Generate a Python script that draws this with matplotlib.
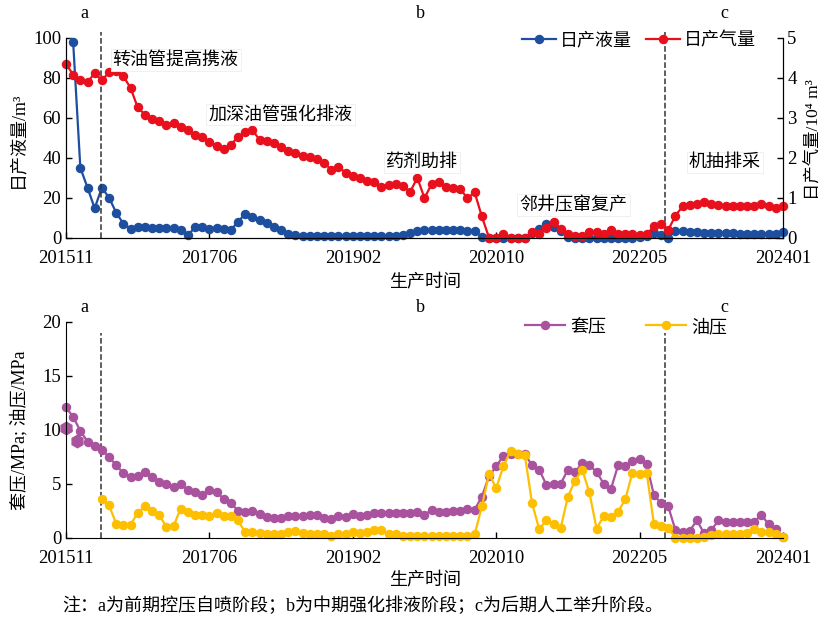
import numpy as np
import matplotlib
matplotlib.use('Agg')
import matplotlib.pyplot as plt
from matplotlib.lines import Line2D

plt.rcParams['font.family'] = ['Liberation Serif', 'Noto Sans CJK SC', 'DejaVu Sans']
plt.rcParams['font.size'] = 13

# production records, 101 points from 201511 to 202401
tick_labels = ['201511', '201706', '201902', '202010', '202205', '202401']

# daily liquid, m3
liquid = [104, 97.8, 35, 25, 14.7, 25, 20, 12.5, 7, 4.5,
          5.2, 5.2, 5, 5, 5, 5, 3.8, 1.2, 5.2, 5.5,
          4.2, 4.7, 4.2, 3.8, 8, 11.9, 10.2, 8.9, 7.5, 5.5,
          3.8, 1.8, 1.5, 0.8, 1, 0.8, 1, 0.8, 0.8, 0.8,
          0.8, 0.8, 0.8, 0.8, 0.8, 0.8, 1, 1.5, 2.5, 3.2,
          3.8, 4, 4, 3.8, 3.8, 3.8, 3.5, 3.2, 0.5, 0,
          0, 0, 0, 0, 0, 2.5, 4.2, 7, 5.5, 3.5,
          0.5, 0, 0, 0, 0, 0, 0, 0, 0, 0,
          0.3, 1, 2.2, 1.3, 0, 3.5, 3.3, 3, 2.8, 2.5,
          2.5, 2.3, 2.2, 2.2, 2, 2, 2, 1.8, 1.8, 2,
          3]

# daily gas, 10^4 m3
gas = [4.35, 4.08, 3.95, 3.89, 4.12, 3.94, 4.14, 4.17, 4.04, 3.75,
       3.26, 3.08, 2.97, 2.91, 2.83, 2.87, 2.77, 2.70, 2.58, 2.52,
       2.39, 2.29, 2.23, 2.33, 2.52, 2.64, 2.69, 2.45, 2.41, 2.37,
       2.27, 2.18, 2.12, 2.05, 2.02, 1.98, 1.88, 1.70, 1.78, 1.62,
       1.55, 1.49, 1.43, 1.38, 1.27, 1.32, 1.34, 1.30, 1.14, 1.50,
       0.99, 1.34, 1.38, 1.26, 1.24, 1.21, 0.99, 1.13, 0.53, 0.00,
       0.00, 0.10, 0.00, 0.00, 0.00, 0.13, 0.10, 0.25, 0.40, 0.21,
       0.09, 0.04, 0.03, 0.13, 0.13, 0.09, 0.19, 0.09, 0.09, 0.09,
       0.07, 0.09, 0.28, 0.34, 0.19, 0.55, 0.78, 0.82, 0.84, 0.90,
       0.84, 0.82, 0.79, 0.78, 0.78, 0.79, 0.78, 0.84, 0.79, 0.75,
       0.78]

# casing pressure, MPa
casing = [12.07, 11.2, 9.9, 8.9, 8.5, 8.1, 7.5, 6.7, 6.0, 5.6,
          5.7, 6.1, 5.6, 5.2, 5.0, 4.7, 5.0, 4.4, 4.2, 4.0,
          4.4, 4.2, 3.6, 3.2, 2.5, 2.4, 2.5, 2.2, 1.95, 1.8,
          1.8, 2.0, 2.0, 2.0, 2.1, 2.1, 1.8, 1.7, 2.0, 1.9,
          2.2, 2.0, 2.1, 2.25, 2.3, 2.3, 2.3, 2.25, 2.3, 2.4,
          2.1, 2.6, 2.4, 2.4, 2.5, 2.5, 2.7, 2.6, 3.8, 5.7,
          6.6, 7.6, 7.8, 7.75, 7.75, 6.7, 6.3, 4.9, 5.0, 5.0,
          6.3, 6.1, 6.9, 6.7, 6.1, 5.0, 4.5, 6.7, 6.6, 7.1,
          7.25, 6.8, 3.95, 3.2, 2.9, 0.7, 0.55, 0.65, 1.6, 0.4,
          0.7, 1.6, 1.5, 1.5, 1.5, 1.5, 1.5, 2.1, 1.25, 0.8,
          0.03]
casing_early_x = [0, 1.5]
casing_early = [10.2, 9.0]

# tubing pressure, MPa (no record before the tubing change)
tubing = [np.nan, np.nan, np.nan, np.nan, np.nan, 3.55, 3.0, 1.3, 1.2, 1.2,
          2.3, 2.9, 2.5, 2.1, 1.0, 1.1, 2.7, 2.4, 2.1, 2.1,
          2.0, 2.3, 2.0, 2.0, 1.6, 0.5, 0.5, 0.4, 0.3, 0.3,
          0.3, 0.5, 0.6, 0.4, 0.35, 0.35, 0.3, 0.2, 0.3, 0.35,
          0.5, 0.4, 0.5, 0.75, 0.7, 0.35, 0.3, 0.2, 0.2, 0.2,
          0.2, 0.2, 0.2, 0.2, 0.2, 0.2, 0.2, 0.3, 2.9, 5.9,
          4.6, 6.6, 8.05, 7.8, 7.65, 3.2, 0.8, 1.6, 1.3, 0.9,
          3.8, 5.3, 6.3, 4.2, 0.85, 2.0, 1.95, 2.4, 3.55, 6.0,
          5.9, 6.0, 1.25, 1.1, 0.9, 0, 0, 0, 0, 0.03,
          0.25, 0.35, 0.35, 0.3, 0.3, 0.4, 0.8, 0.55, 0.55, 0.35,
          0.03]

stage_bounds = [4.9, 83.6]
stage_names = ['a', 'b', 'c']
notes = ['转油管提高携液', '加深油管强化排液', '药剂助排', '邻井压窜复产', '机抽排采']

n = len(liquid)
months = np.arange(n)
tick_pos = np.linspace(0, n - 1, len(tick_labels))
liquid = np.array(liquid, dtype=float)

blue = '#1d4f9e'
red = '#e8101c'
purple = '#a9529e'
yellow = '#fdbf00'
ms = 5.8
lw = 1.6

fig = plt.figure(figsize=(8.26, 6.22), dpi=100)
ax1 = fig.add_axes([0.0799, 0.618, 0.868, 0.321])
ax2 = ax1.twinx()
ax3 = fig.add_axes([0.0799, 0.1355, 0.868, 0.347])

# top: liquid and gas rates
ax1.plot(months, liquid, color=blue, lw=lw)
ok = liquid <= 100
ax1.plot(months[ok], liquid[ok], 'o', color=blue, ms=ms, clip_on=False)
ax2.plot(months, gas, '-o', color=red, lw=lw, ms=ms, clip_on=False)

ax1.set_xlim(0, n - 1)
ax1.set_ylim(0, 100)
ax2.set_ylim(0, 5)
ax1.set_yticks([0, 20, 40, 60, 80, 100])
ax2.set_yticks([0, 1, 2, 3, 4, 5])
for a in (ax1, ax2):
    a.spines['top'].set_visible(False)
    a.tick_params(direction='in', length=4, width=1, labelsize=13.5)
ax1.tick_params(axis='x', pad=9)
ax2.tick_params(axis='y', pad=3)
ax1.set_xticks(tick_pos)
ax1.set_xticklabels(tick_labels)

for b in stage_bounds:
    ax1.plot([b, b], [0, 103], ls='--', color='#333333', lw=1.1, clip_on=False)
    ax3.plot([b, b], [0, 19], ls='--', color='#333333', lw=1.1, clip_on=False)

stage_x = [2.6, 49.4, 91.8]
for name, sx in zip(stage_names, stage_x):
    ax1.text(sx, 112, name, ha='center', va='center', fontsize=13)
    ax3.text(sx, 21.3, name, ha='center', va='center', fontsize=13)

note_xy = [(15.3, 89), (29.9, 61.5), (49.7, 37.5), (70.8, 16.3), (91.9, 37.5)]
for txt, (tx, ty) in zip(notes, note_xy):
    ax2.text(tx, ty / 20, txt, ha='center', va='center', fontsize=13,
             bbox=dict(facecolor='white', edgecolor='#eeeeee', lw=0.6, pad=1.5), zorder=5)

h1 = Line2D([], [], color=blue, lw=lw, marker='o', ms=ms)
h2 = Line2D([], [], color=red, lw=lw, marker='o', ms=ms)
ax2.legend([h1, h2], ['日产液量', '日产气量'], loc='center right',
           bbox_to_anchor=(0.985, 0.985), ncol=2, frameon=False, fontsize=13,
           handlelength=1.9, handletextpad=0.2, columnspacing=0.8)

fig.text(18 / 826, 1 - 140 / 622, '日产液量/m³', rotation=90, ha='center', va='center', fontsize=13)
fig.text(814 / 826, 1 - 140 / 622, '日产气量/10⁴ m³', rotation=90, ha='center', va='center', fontsize=12.5)
fig.text(425 / 826, 1 - 283 / 622, '生产时间', ha='center', va='center', fontsize=13)

# bottom: casing and tubing pressure
ax3.plot(months, casing, '-o', color=purple, lw=lw, ms=ms, clip_on=False)
ax3.plot(casing_early_x, casing_early, 'h', color=purple, ms=9, clip_on=False)
ax3.plot(months, tubing, '-o', color=yellow, lw=lw, ms=ms, clip_on=False)
ax3.set_xlim(0, n - 1)
ax3.set_ylim(0, 20)
ax3.set_yticks([0, 5, 10, 15, 20])
ax3.set_xticks(tick_pos)
ax3.set_xticklabels(tick_labels)
ax3.spines['top'].set_visible(False)
ax3.spines['right'].set_visible(False)
ax3.tick_params(direction='in', length=4, width=1, labelsize=13.5)
ax3.tick_params(axis='x', pad=9)

h3 = Line2D([], [], color=purple, lw=lw, marker='o', ms=ms)
h4 = Line2D([], [], color=yellow, lw=lw, marker='o', ms=ms)
ax3.legend([h3, h4], ['套压', '油压'], loc='center right',
           bbox_to_anchor=(0.945, 0.975), ncol=2, frameon=False, fontsize=13,
           handlelength=2.2, handletextpad=0.3, columnspacing=2.2)

fig.text(20 / 826, 1 - 430 / 622, '套压/MPa; 油压/MPa', rotation=90, ha='center', va='center', fontsize=13)
fig.text(425 / 826, 1 - 581 / 622, '生产时间', ha='center', va='center', fontsize=13)
fig.text(62 / 826, 1 - 606 / 622, '注：a为前期控压自喷阶段；b为中期强化排液阶段；c为后期人工举升阶段。',
         ha='left', va='center', fontsize=13)

fig.savefig('out.png', dpi=100)
